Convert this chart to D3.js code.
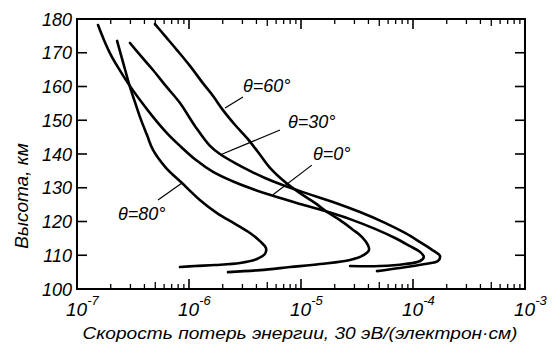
<!DOCTYPE html>
<html>
<head>
<meta charset="utf-8">
<script src="https://cdn.jsdelivr.net/npm/d3@7"></script>
<style>
  html, body { margin: 0; padding: 0; background: #fff; }
  svg { display: block; }
  text { font-family: "Liberation Sans", Arial, sans-serif; font-style: italic; fill: #000; }
</style>
</head>
<body>
<svg id="chart" width="557" height="357"></svg>
<script>
// ---- Data (loss rate, altitude km) ----
const theta0 = [
  [1.54e-7,178.2],[1.74e-7,173.8],[2.01e-7,169.3],[2.37e-7,165.2],[2.85e-7,161.0],
  [3.65e-7,156.0],[4.77e-7,151.0],[6.23e-7,146.5],[8.31e-7,142.4],[1.155e-6,138.2],
  [1.64e-6,134.7],[2.42e-6,132.0],[3.50e-6,129.9],[5.62e-6,127.6],[9.80e-6,125.2],
  [1.64e-5,123.1],[2.74e-5,120.7],[4.58e-5,117.8],[6.91e-5,115.1],[9.40e-5,112.7],
  [1.155e-4,111.0],[1.25e-4,109.5],[1.155e-4,108.3],[8.49e-5,107.4],[5.07e-5,106.8],
  [2.74e-5,106.8]
];
const theta30 = [
  [2.97e-7,172.9],[3.73e-7,169.0],[4.77e-7,164.9],[6.23e-7,160.1],[8.31e-7,155.1],
  [1.13e-6,148.3],[1.54e-6,142.4],[1.89e-6,140.0],[2.58e-6,137.3],[3.50e-6,135.0],
  [4.77e-6,132.9],[6.49e-6,131.1],[1.04e-5,128.7],[1.93e-5,125.8],[3.36e-5,122.8],
  [5.62e-5,119.6],[8.49e-5,116.6],[1.155e-4,113.9],[1.48e-4,111.6],[1.74e-4,109.8],
  [1.67e-4,108.3],[1.28e-4,107.4],[7.66e-5,106.2],[4.77e-5,105.3]
];
const theta60 = [
  [4.97e-7,178.5],[6.10e-7,175.0],[7.81e-7,170.8],[1.02e-6,166.1],[1.33e-6,161.0],
  [1.64e-6,157.2],[2.01e-6,153.0],[2.58e-6,148.6],[3.30e-6,144.7],[4.13e-6,140.6],
  [5.29e-6,135.9],[7.20e-6,131.7],[9.80e-6,128.4],[1.33e-5,125.5],[1.71e-5,122.8],
  [2.23e-5,120.4],[2.85e-5,117.8],[3.51e-5,115.4],[3.96e-5,113.0],[4.05e-5,111.6],
  [3.65e-5,110.1],[2.74e-5,108.6],[1.48e-5,107.4],[7.98e-6,106.5],[4.30e-6,105.6],
  [2.23e-6,105.0]
];
const theta80 = [
  [2.28e-7,173.5],[2.57e-7,167.3],[2.97e-7,159.9],[3.36e-7,154.5],[3.73e-7,150.1],
  [4.22e-7,145.6],[4.77e-7,141.2],[6.23e-7,135.9],[8.66e-7,131.4],[1.25e-6,126.4],
  [1.78e-6,122.5],[2.58e-6,119.3],[3.50e-6,116.6],[4.30e-6,114.2],[4.87e-6,112.1],
  [4.77e-6,110.4],[4.05e-6,108.9],[2.85e-6,107.7],[1.71e-6,107.1],[1.13e-6,106.8],
  [8.31e-7,106.5]
];
const seriesNames = ["θ=0°", "θ=30°", "θ=60°", "θ=80°"];
// label baseline-left anchor (data) and leader line ends (data)
const labelPos   = [[1.28e-5,138.2],[7.65e-6,147.7],[3.03e-6,158.4],[2.32e-7,120.4]];
const leaderFrom = [[1.25e-5,136.7],[6.49e-6,147.1],[3.03e-6,156.9],[5.29e-7,126.4]];
const leaderTo   = [[5.62e-6,127.9],[1.89e-6,139.7],[2.10e-6,153.6],[8.66e-7,131.4]];
const yTicks = [100,110,120,130,140,150,160,170,180];
const xDecades = [-7,-6,-5,-4,-3];
const xTitle = "Скорость потерь энергии, 30 эВ/(электрон·см)";
const yTitle = "Высота, км";

// ---- Layout ----
const L = 77, R = 525, T = 19, B = 289;
const svg = d3.select("#chart");
const x = d3.scaleLog().domain([1e-7, 1e-3]).range([L, R]);
const y = d3.scaleLinear().domain([100, 180]).range([B, T]);

const majorX = xDecades.map(e => Math.pow(10, e));
const minorX = [];
for (let e = -7; e < -3; e++) for (let m = 2; m <= 9; m++) minorX.push([m, m * Math.pow(10, e)]);

const tickG = svg.append("g").attr("stroke", "#000").attr("stroke-width", 1.3);
minorX.forEach(([m, v]) => {
  const len = m === 5 ? 7 : 5;
  tickG.append("line").attr("x1", x(v)).attr("x2", x(v)).attr("y1", B).attr("y2", B - len);
  tickG.append("line").attr("x1", x(v)).attr("x2", x(v)).attr("y1", T).attr("y2", T + len);
});
majorX.forEach(v => {
  tickG.append("line").attr("x1", x(v)).attr("x2", x(v)).attr("y1", B).attr("y2", B - 10).attr("stroke-width", 1.6);
  tickG.append("line").attr("x1", x(v)).attr("x2", x(v)).attr("y1", T).attr("y2", T + 10).attr("stroke-width", 1.6);
});
yTicks.forEach(v => {
  tickG.append("line").attr("x1", L).attr("x2", L + 10).attr("y1", y(v)).attr("y2", y(v)).attr("stroke-width", 1.6);
  tickG.append("line").attr("x1", R).attr("x2", R - 10).attr("y1", y(v)).attr("y2", y(v)).attr("stroke-width", 1.6);
});

svg.append("rect").attr("x", L).attr("y", T).attr("width", R - L).attr("height", B - T)
  .attr("fill", "none").attr("stroke", "#000").attr("stroke-width", 2);

svg.append("g").selectAll("text").data(yTicks).join("text")
  .attr("x", L - 5).attr("y", d => y(d) + 6.5)
  .attr("text-anchor", "end").attr("font-size", 18).text(d => d);

const xl = svg.append("g");
xDecades.forEach(e => {
  const t = xl.append("text").attr("x", x(Math.pow(10, e)) - 11).attr("y", 316).attr("font-size", 19);
  t.append("tspan").text("10");
  t.append("tspan").attr("dy", -11).attr("font-size", 13).text("-" + Math.abs(e));
});

const line = d3.line().x(d => x(d[0])).y(d => y(d[1])).curve(d3.curveCatmullRom.alpha(0.5));
[theta0, theta30, theta60, theta80].forEach(s => {
  svg.append("path").attr("d", line(s)).attr("fill", "none").attr("stroke", "#000")
    .attr("stroke-width", 2.6).attr("stroke-linejoin", "round").attr("stroke-linecap", "round");
});

seriesNames.forEach((n, i) => {
  svg.append("line").attr("x1", x(leaderFrom[i][0])).attr("y1", y(leaderFrom[i][1]))
    .attr("x2", x(leaderTo[i][0])).attr("y2", y(leaderTo[i][1]))
    .attr("stroke", "#000").attr("stroke-width", 1.2);
  svg.append("text").attr("x", x(labelPos[i][0])).attr("y", y(labelPos[i][1]))
    .attr("font-size", 18).text(n);
});

svg.append("text").attr("x", 300).attr("y", 339).attr("text-anchor", "middle")
  .attr("font-size", 17).attr("textLength", 435).attr("lengthAdjust", "spacingAndGlyphs").text(xTitle);
svg.append("text").attr("transform", "translate(28,196) rotate(-90)").attr("text-anchor", "middle")
  .attr("font-size", 19).text(yTitle);
</script>
</body>
</html>
